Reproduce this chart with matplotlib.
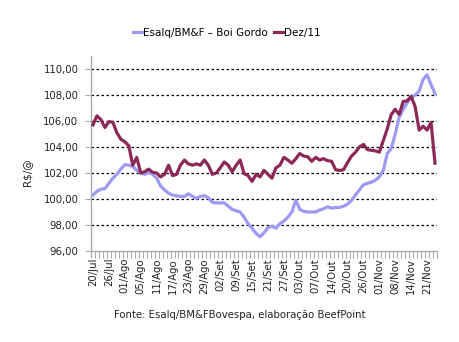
import matplotlib
matplotlib.use("Agg")
import matplotlib.pyplot as plt
import numpy as np

# datas dos pregões (rótulo a cada 4 pregões)
tick_labels = ["20/Jul", "26/Jul", "01/Ago", "05/Ago", "11/Ago", "17/Ago", "23/Ago",
               "29/Ago", "02/Set", "09/Set", "15/Set", "21/Set", "27/Set", "03/Out",
               "07/Out", "14/Out", "20/Out", "26/Out", "01/Nov", "08/Nov", "14/Nov",
               "21/Nov"]

esalq = [100.3, 100.6, 100.75, 100.8, 101.2, 101.6, 101.9, 102.3, 102.65, 102.6,
         102.5, 102.2, 102.0, 101.9, 102.05, 101.9, 101.6, 101.0, 100.7, 100.45,
         100.3, 100.25, 100.2, 100.2, 100.4, 100.2, 100.05, 100.2, 100.25, 100.1,
         99.75, 99.7, 99.7, 99.7, 99.45, 99.2, 99.1, 99.0, 98.6, 98.1,
         97.75, 97.35, 97.1, 97.4, 97.8, 97.9, 97.75, 98.1, 98.3, 98.6,
         99.0, 99.9, 99.2, 99.05, 99.0, 99.0, 99.0, 99.15, 99.25, 99.4,
         99.3, 99.35, 99.35, 99.45, 99.6, 99.9, 100.3, 100.7, 101.1, 101.2,
         101.3, 101.45, 101.7, 102.2, 103.5, 103.9, 105.0, 106.3, 106.9, 107.4,
         107.8, 108.0, 108.3, 109.2, 109.55, 108.8, 108.1]

dez11 = [105.7, 106.4, 106.1, 105.5, 105.95, 105.9, 105.1, 104.6, 104.4, 104.1,
         102.6, 103.2, 102.0, 102.1, 102.3, 102.05, 102.0, 101.7, 101.9, 102.6,
         101.8, 101.9, 102.6, 103.0, 102.7, 102.6, 102.7, 102.6, 103.0, 102.6,
         101.9, 102.0, 102.4, 102.85, 102.6, 102.1, 102.6, 103.0, 101.95, 101.8,
         101.35, 101.9, 101.7, 102.2, 101.9, 101.6, 102.4, 102.6, 103.2, 103.0,
         102.75, 103.1, 103.5, 103.3, 103.25, 102.9, 103.2, 103.0, 103.1, 102.95,
         102.9, 102.25, 102.2, 102.25, 102.8, 103.3, 103.6, 104.0, 104.2, 103.8,
         103.75, 103.7, 103.6, 104.5, 105.4, 106.5, 106.9, 106.5, 107.5, 107.55,
         107.9, 107.1, 105.3, 105.6, 105.3, 105.9, 102.75]

y_ticks = [96, 98, 100, 102, 104, 106, 108, 110]

plt.rcParams["font.family"] = "DejaVu Sans"

fig = plt.figure(figsize=(4.6, 3.42), dpi=100)
ax = fig.add_axes([91 / 460, 1 - 251 / 342, (437 - 91) / 460, (251 - 56) / 342])

n = len(esalq)
x = np.arange(n)

ax.plot(x, esalq, color="#9b9bf2", lw=2.3, solid_joinstyle="round",
        label="Esalq/BM&F \u2013 Boi Gordo", zorder=3)
ax.plot(x, dez11, color="#8c2858", lw=2.3, solid_joinstyle="round",
        label="Dez/11", zorder=4)

ax.set_xlim(-0.5, n - 0.5)
ax.set_ylim(96, 111)

for v in y_ticks[1:]:
    ax.axhline(v, color="black", lw=0.9, ls=(0, (2, 2)), zorder=1)

ax.set_yticks(y_ticks)
ax.set_yticklabels([f"{v:.2f}".replace(".", ",") for v in y_ticks], fontsize=7.3,
                   color="#222222")

ax.set_xticks(np.arange(0, len(tick_labels) * 4, 4))
ax.set_xticklabels(tick_labels, rotation=90, fontsize=7.3, color="#222222")
ax.set_xticks(np.arange(n + 1) - 0.5, minor=True)
ax.tick_params(axis="x", which="major", length=0, pad=5)
ax.tick_params(axis="x", which="minor", length=5, color="#aaaaaa", width=0.8)
ax.tick_params(axis="y", length=4, color="#aaaaaa", width=0.8, pad=5)

for side in ("top", "right"):
    ax.spines[side].set_visible(False)
for side in ("left", "bottom"):
    ax.spines[side].set_color("#aaaaaa")
    ax.spines[side].set_linewidth(1.0)

fig.text(27 / 460, 1 - 172 / 342, "R$/@", rotation=90, ha="center", va="center",
         fontsize=7.5, color="#222222")

fig.legend(loc="center", bbox_to_anchor=(227 / 460, 1 - 33 / 342), ncol=2,
           frameon=False, fontsize=7.5, handlelength=0.8, handletextpad=0.15,
           columnspacing=0.6, borderpad=0)

fig.text(240 / 460, 1 - 315 / 342, "Fonte: Esalq/BM&FBovespa, elaboração BeefPoint",
         ha="center", va="center", fontsize=7.3, color="#222222")

fig.savefig("out.png", dpi=100, facecolor="white")
